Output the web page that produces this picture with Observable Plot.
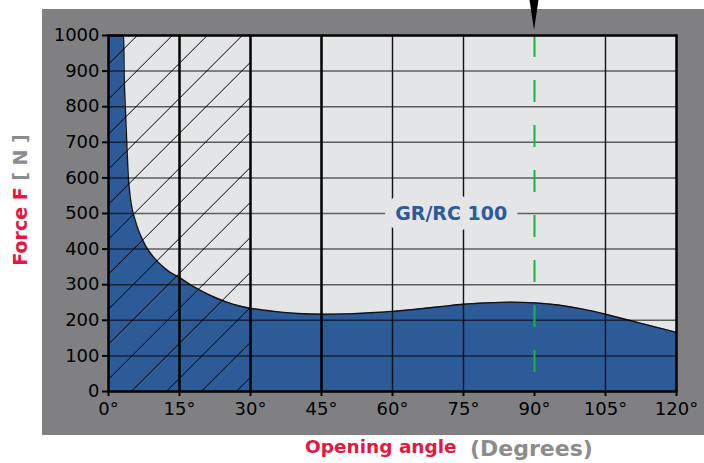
<!DOCTYPE html>
<html>
<head>
<meta charset="utf-8">
<script src="https://cdn.jsdelivr.net/npm/d3@7"></script>
<script src="https://cdn.jsdelivr.net/npm/@observablehq/plot@0.6"></script>
<style>
  html, body { margin: 0; padding: 0; background: white; }
</style>
</head>
<body>
<div id="chart"></div>
<script>
// ---- data ----
const angles = [0, 3.2, 3.3, 3.55, 3.85, 4.2, 4.6, 5.0, 5.5, 6.4, 7.8, 9.6, 11.7, 13, 15, 17.5, 20, 22.5, 25, 27.5, 30, 35, 40, 45, 50, 55, 60, 65, 70, 75, 80, 85, 90, 95, 100, 105, 110, 115, 120];
const forces = [1000, 1000, 900, 800, 700, 600, 545, 512, 487, 450, 410, 376, 348, 335, 320, 298, 280, 264, 251, 241, 234, 225, 219, 217, 218, 221, 225, 231, 238, 245, 249, 251, 249, 243, 232, 217, 200, 183, 166];
const xTicks = [0, 15, 30, 45, 60, 75, 90, 105, 120];
const yTicks = [0, 100, 200, 300, 400, 500, 600, 700, 800, 900, 1000];
const hGrid = [100, 200, 300, 400, 500, 600, 700, 800, 900];
const thickVGrid = [15, 30, 45];
const thinVGrid = [60, 75, 105];
const markerAngle = [90];
const hatchedAngles = [0, 30];
const seriesLabel = "GR/RC 100";
const labelAngle = 72.4;
const labelForce = 500;

const data = angles.map((a, i) => ({a, f: forces[i]}));

const blue = "#2d5b97";
const light = "#e4e5e7";

const chart = Plot.plot({
  width: 704,
  height: 463,
  marginLeft: 108,
  marginRight: 28,
  marginTop: 35,
  marginBottom: 72,
  style: {fontFamily: "DejaVu Sans", fontSize: "18px", background: "white", color: "black"},
  x: {domain: [0, 120], ticks: xTicks, tickFormat: d => d + "°", tickSize: 5, tickPadding: 6, label: null},
  y: {domain: [0, 1000], ticks: yTicks, tickFormat: d => String(d), tickSize: 6, tickPadding: 3, label: null},
  marks: [
    Plot.frame({fill: light}),
    Plot.areaY(data, {x: "a", y: "f", fill: blue, curve: "monotone-x"}),
    Plot.line(data, {x: "a", y: "f", stroke: "#111", strokeWidth: 1.4, curve: "monotone-x"}),
    Plot.rect([hatchedAngles], {x1: d => d[0], x2: d => d[1], y1: 0, y2: 1000, fill: "url(#hatch)"}),
    Plot.ruleY(hGrid, {stroke: "black", strokeOpacity: 0.6, strokeWidth: 1.5}),
    Plot.ruleX(thickVGrid, {stroke: "black", strokeWidth: 2.5}),
    Plot.ruleX(thinVGrid, {stroke: "#111", strokeWidth: 1.4}),
    Plot.ruleX(markerAngle, {stroke: "#1db34b", strokeWidth: 2, strokeDasharray: "22,23"}),
    Plot.text([seriesLabel], {x: labelAngle, y: labelForce, text: d => d, fill: blue, fontWeight: "bold", fontSize: 19, stroke: light, strokeWidth: 22, strokeLinejoin: "round"}),
    Plot.frame({stroke: "black", strokeWidth: 2.5})
  ]
});

const svg = d3.select(chart);

// outer gray panel
svg.insert("rect", ":first-child")
  .attr("x", 42).attr("y", 9).attr("width", 662).attr("height", 426)
  .attr("fill", "#808083");

// hatch pattern
const defs = svg.append("defs");
const pat = defs.append("pattern")
  .attr("id", "hatch")
  .attr("patternUnits", "userSpaceOnUse")
  .attr("x", 32.7).attr("y", 0)
  .attr("width", 35).attr("height", 35);
pat.append("path")
  .attr("d", "M0,35 L35,0 M-5,5 L5,-5 M30,40 L40,30")
  .attr("stroke", "black").attr("stroke-width", 1).attr("fill", "none");

// axis tick thickness
svg.selectAll('[aria-label^="x-axis"] line, [aria-label^="x-axis"] path, [aria-label^="y-axis"] line, [aria-label^="y-axis"] path')
  .attr("stroke-width", 2).attr("stroke", "black");

// marker arrow above the 90° line
const sx = chart.scale("x").apply(markerAngle[0]);
svg.append("path")
  .attr("d", `M${sx - 4.5},0 L${sx + 4.5},0 L${sx},30 Z`)
  .attr("fill", "black");

// y-axis title
const yt = svg.append("text")
  .attr("transform", "translate(27,200) rotate(-90)")
  .attr("text-anchor", "middle")
  .attr("font-family", "DejaVu Sans")
  .attr("font-weight", "bold")
  .style("font-size", "19px");
yt.append("tspan").attr("fill", "#e5173f").text("Force F");
yt.append("tspan").attr("fill", "#8c8c8e").text(" [ N ]");

// x-axis title
svg.append("text")
  .attr("x", 305).attr("y", 453)
  .attr("text-anchor", "start")
  .attr("font-family", "DejaVu Sans").attr("font-weight", "bold")
  .style("font-size", "18.5px")
  .attr("fill", "#e5173f")
  .text("Opening angle");
svg.append("text")
  .attr("x", 470).attr("y", 456)
  .attr("text-anchor", "start")
  .attr("font-family", "DejaVu Sans").attr("font-weight", "bold")
  .style("font-size", "22px")
  .attr("fill", "#8c8c8e")
  .text("(Degrees)");

document.getElementById("chart").appendChild(chart);
</script>
</body>
</html>
